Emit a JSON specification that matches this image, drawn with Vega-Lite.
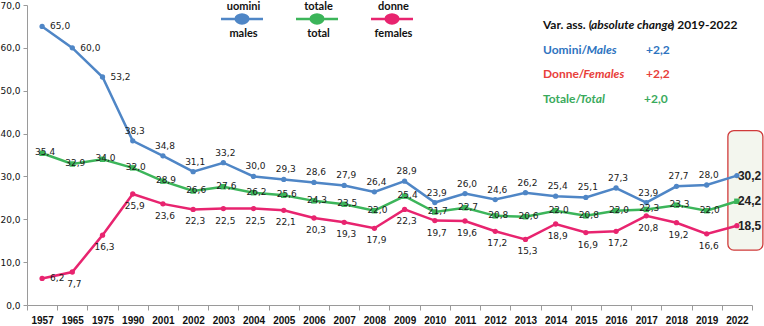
{
  "$schema": "https://vega.github.io/schema/vega-lite/v6.json",
  "width": 725,
  "height": 300,
  "autosize": {"type": "none"},
  "padding": {"left": 27, "top": 5, "right": 12, "bottom": 21},
  "background": "white",
  "config": {
    "locale": {"number": {"decimal": ",", "thousands": ".", "grouping": [3], "currency": ["", " €"]}},
    "view": {"stroke": null},
    "style": {"guide-label": {"lineHeight": 27}},
    "axis": {"grid": false, "domainColor": "#9a9a9a", "tickColor": "#9a9a9a", "labelColor": "#111111", "labelFont": "DejaVu Sans", "labelFontSize": 9}
  },
  "datasets": {
    "tassi": [
      {"anno": "1957", "serie": "uomini", "valore": 65.0}, {"anno": "1965", "serie": "uomini", "valore": 60.0}, {"anno": "1975", "serie": "uomini", "valore": 53.2}, {"anno": "1990", "serie": "uomini", "valore": 38.3},
      {"anno": "2001", "serie": "uomini", "valore": 34.8}, {"anno": "2002", "serie": "uomini", "valore": 31.1}, {"anno": "2003", "serie": "uomini", "valore": 33.2}, {"anno": "2004", "serie": "uomini", "valore": 30.0},
      {"anno": "2005", "serie": "uomini", "valore": 29.3}, {"anno": "2006", "serie": "uomini", "valore": 28.6}, {"anno": "2007", "serie": "uomini", "valore": 27.9}, {"anno": "2008", "serie": "uomini", "valore": 26.4},
      {"anno": "2009", "serie": "uomini", "valore": 28.9}, {"anno": "2010", "serie": "uomini", "valore": 23.9}, {"anno": "2011", "serie": "uomini", "valore": 26.0}, {"anno": "2012", "serie": "uomini", "valore": 24.6},
      {"anno": "2013", "serie": "uomini", "valore": 26.2}, {"anno": "2014", "serie": "uomini", "valore": 25.4}, {"anno": "2015", "serie": "uomini", "valore": 25.1}, {"anno": "2016", "serie": "uomini", "valore": 27.3},
      {"anno": "2017", "serie": "uomini", "valore": 23.9}, {"anno": "2018", "serie": "uomini", "valore": 27.7}, {"anno": "2019", "serie": "uomini", "valore": 28.0}, {"anno": "2022", "serie": "uomini", "valore": 30.2},
      {"anno": "1957", "serie": "totale", "valore": 35.4}, {"anno": "1965", "serie": "totale", "valore": 32.9}, {"anno": "1975", "serie": "totale", "valore": 34.0}, {"anno": "1990", "serie": "totale", "valore": 32.0},
      {"anno": "2001", "serie": "totale", "valore": 28.9}, {"anno": "2002", "serie": "totale", "valore": 26.6}, {"anno": "2003", "serie": "totale", "valore": 27.6}, {"anno": "2004", "serie": "totale", "valore": 26.2},
      {"anno": "2005", "serie": "totale", "valore": 25.6}, {"anno": "2006", "serie": "totale", "valore": 24.3}, {"anno": "2007", "serie": "totale", "valore": 23.5}, {"anno": "2008", "serie": "totale", "valore": 22.0},
      {"anno": "2009", "serie": "totale", "valore": 25.4}, {"anno": "2010", "serie": "totale", "valore": 21.7}, {"anno": "2011", "serie": "totale", "valore": 22.7}, {"anno": "2012", "serie": "totale", "valore": 20.8},
      {"anno": "2013", "serie": "totale", "valore": 20.6}, {"anno": "2014", "serie": "totale", "valore": 22.0}, {"anno": "2015", "serie": "totale", "valore": 20.8}, {"anno": "2016", "serie": "totale", "valore": 22.0},
      {"anno": "2017", "serie": "totale", "valore": 22.3}, {"anno": "2018", "serie": "totale", "valore": 23.3}, {"anno": "2019", "serie": "totale", "valore": 22.0}, {"anno": "2022", "serie": "totale", "valore": 24.2},
      {"anno": "1957", "serie": "donne", "valore": 6.2}, {"anno": "1965", "serie": "donne", "valore": 7.7}, {"anno": "1975", "serie": "donne", "valore": 16.3}, {"anno": "1990", "serie": "donne", "valore": 25.9},
      {"anno": "2001", "serie": "donne", "valore": 23.6}, {"anno": "2002", "serie": "donne", "valore": 22.3}, {"anno": "2003", "serie": "donne", "valore": 22.5}, {"anno": "2004", "serie": "donne", "valore": 22.5},
      {"anno": "2005", "serie": "donne", "valore": 22.1}, {"anno": "2006", "serie": "donne", "valore": 20.3}, {"anno": "2007", "serie": "donne", "valore": 19.3}, {"anno": "2008", "serie": "donne", "valore": 17.9},
      {"anno": "2009", "serie": "donne", "valore": 22.3}, {"anno": "2010", "serie": "donne", "valore": 19.7}, {"anno": "2011", "serie": "donne", "valore": 19.6}, {"anno": "2012", "serie": "donne", "valore": 17.2},
      {"anno": "2013", "serie": "donne", "valore": 15.3}, {"anno": "2014", "serie": "donne", "valore": 18.9}, {"anno": "2015", "serie": "donne", "valore": 16.9}, {"anno": "2016", "serie": "donne", "valore": 17.2},
      {"anno": "2017", "serie": "donne", "valore": 20.8}, {"anno": "2018", "serie": "donne", "valore": 19.2}, {"anno": "2019", "serie": "donne", "valore": 16.6}, {"anno": "2022", "serie": "donne", "valore": 18.5}
    ],
    "note": [
      {"k": "t1", "testo": "Var. ass. ("}, {"k": "t2", "testo": "absolute change"}, {"k": "t3", "testo": ") 2019-2022"},
      {"k": "u1", "testo": "Uomini/"}, {"k": "u2", "testo": "Males"}, {"k": "u3", "testo": "+2,2"},
      {"k": "d1", "testo": "Donne/"}, {"k": "d2", "testo": "Females"}, {"k": "d3", "testo": "+2,2"},
      {"k": "s1", "testo": "Totale/"}, {"k": "s2", "testo": "Total"}, {"k": "s3", "testo": "+2,0"}
    ],
    "riquadro": [{"anno": "2022"}]
  },
  "layer": [
    {
      "data": {"name": "riquadro"},
      "mark": {"type": "rect", "fill": "#f3f6ee", "stroke": "#d03a3a", "strokeWidth": 1.3, "cornerRadius": 6, "xOffset": -9, "x2Offset": 26},
      "encoding": {
        "x": {
          "field": "anno", "type": "ordinal", "title": null,
          "scale": {"type": "band", "paddingInner": 0, "paddingOuter": 0,
            "domain": ["1957","1965","1975","1990","2001","2002","2003","2004","2005","2006","2007","2008","2009","2010","2011","2012","2013","2014","2015","2016","2017","2018","2019","2022"]},
          "axis": {"labelAngle": 0, "labelFont": "Liberation Sans", "labelFontWeight": "bold", "labelFontSize": 10, "tickBand": "extent", "tickSize": 5, "labelPadding": 5, "title": null}
        },
        "x2": {"field": "anno"},
        "y": {
          "datum": 40.7, "type": "quantitative", "title": null,
          "scale": {"domain": [0, 70], "nice": false},
          "axis": {"values": [0, 10, 20, 30, 40, 50, 60, 70], "format": ".1f", "tickSize": 4, "labelPadding": 3, "title": null}
        },
        "y2": {"datum": 12.8}
      }
    },
    {
      "data": {"name": "tassi"},
      "encoding": {
        "x": {
          "field": "anno", "type": "ordinal", "title": null,
          "scale": {"type": "band", "paddingInner": 0, "paddingOuter": 0,
            "domain": ["1957","1965","1975","1990","2001","2002","2003","2004","2005","2006","2007","2008","2009","2010","2011","2012","2013","2014","2015","2016","2017","2018","2019","2022"]},
          "axis": {"labelAngle": 0, "labelFont": "Liberation Sans", "labelFontWeight": "bold", "labelFontSize": 10, "tickBand": "extent", "tickSize": 5, "labelPadding": 5, "title": null}
        },
        "y": {
          "field": "valore", "type": "quantitative", "title": null,
          "scale": {"domain": [0, 70], "nice": false},
          "axis": {"values": [0, 10, 20, 30, 40, 50, 60, 70], "format": ".1f", "tickSize": 4, "labelPadding": 3, "title": null}
        }
      },
      "layer": [
        {
          "mark": {"type": "line", "strokeWidth": 2.5},
          "encoding": {
            "stroke": {
              "field": "serie", "type": "nominal",
              "scale": {"domain": ["uomini", "totale", "donne"], "range": ["#4f86c6", "#3cb55a", "#e8246f"]},
              "legend": {
                "orient": "none", "legendX": 203, "legendY": -10, "direction": "horizontal", "title": null,
                "symbolType": "M-2,1.14L2,1.14M-0.6,1.14A0.6,0.42,0,1,0,0.6,1.14A0.6,0.42,0,1,0,-0.6,1.14Z",
                "symbolSize": 441, "symbolStrokeWidth": 2.5,
                "labelAlign": "center", "labelBaseline": "middle", "labelOffset": -10.5,
                "labelFont": "Lato", "labelFontSize": 11, "labelFontWeight": "bold", "labelColor": "#111111", "labelLimit": 0,
                "columnPadding": 23,
                "labelExpr": "datum.label == 'uomini' ? ['uomini', 'males'] : datum.label == 'totale' ? ['totale', 'total'] : ['donne', 'females']"
              }
            }
          }
        },
        {
          "transform": [{"filter": "datum.serie != 'totale'"}],
          "mark": {"type": "point", "filled": true, "size": 28, "opacity": 1, "shape": "circle"},
          "encoding": {
            "fill": {
              "field": "serie", "type": "nominal",
              "scale": {"domain": ["uomini", "totale", "donne"], "range": ["#4f86c6", "#3cb55a", "#e8246f"]},
              "legend": {
                "orient": "none", "legendX": 203, "legendY": -10, "direction": "horizontal", "title": null,
                "symbolType": "M-2,1.14L2,1.14M-0.6,1.14A0.6,0.42,0,1,0,0.6,1.14A0.6,0.42,0,1,0,-0.6,1.14Z",
                "symbolSize": 441, "symbolStrokeWidth": 2.5,
                "labelAlign": "center", "labelBaseline": "middle", "labelOffset": -10.5,
                "labelFont": "Lato", "labelFontSize": 11, "labelFontWeight": "bold", "labelColor": "#111111", "labelLimit": 0,
                "columnPadding": 23,
                "labelExpr": "datum.label == 'uomini' ? ['uomini', 'males'] : datum.label == 'totale' ? ['totale', 'total'] : ['donne', 'females']"
              }
            }
          }
        },
        {
          "transform": [{"filter": "datum.serie == 'totale'"}],
          "mark": {"type": "point", "filled": true, "size": 30, "opacity": 1, "shape": "square"},
          "encoding": {"fill": {"field": "serie", "type": "nominal"}}
        },
        {
          "transform": [{"filter": "datum.serie == 'uomini' && datum.anno != '2022' && indexof(['1957', '1965', '1975'], datum.anno) < 0"}],
          "mark": {"type": "text", "font": "DejaVu Sans", "fontSize": 9, "color": "#1a1a1a", "dy": -10, "dx": 2},
          "encoding": {"text": {"field": "valore", "type": "quantitative", "format": ".1f"}}
        },
        {
          "transform": [{"filter": "(datum.serie == 'uomini' && indexof(['1957', '1965', '1975'], datum.anno) >= 0) || (datum.serie == 'donne' && datum.anno == '1957')"}],
          "mark": {"type": "text", "font": "DejaVu Sans", "fontSize": 9, "color": "#1a1a1a", "align": "left", "dx": 8, "dy": 0},
          "encoding": {"text": {"field": "valore", "type": "quantitative", "format": ".1f"}}
        },
        {
          "transform": [{"filter": "datum.serie == 'totale' && datum.anno != '2022'"}],
          "mark": {"type": "text", "font": "DejaVu Sans", "fontSize": 9, "color": "#1a1a1a", "dy": -1, "dx": 3},
          "encoding": {"text": {"field": "valore", "type": "quantitative", "format": ".1f"}}
        },
        {
          "transform": [{"filter": "datum.serie == 'donne' && datum.anno != '2022' && datum.anno != '1957'"}],
          "mark": {"type": "text", "font": "DejaVu Sans", "fontSize": 9, "color": "#1a1a1a", "dy": 12, "dx": 2},
          "encoding": {"text": {"field": "valore", "type": "quantitative", "format": ".1f"}}
        },
        {
          "transform": [{"filter": "datum.anno == '2022'"}],
          "mark": {"type": "text", "font": "Liberation Sans", "fontSize": 12, "fontWeight": "bold", "color": "#222222", "align": "left", "dx": 1},
          "encoding": {"text": {"field": "valore", "type": "quantitative", "format": ".1f"}}
        }
      ]
    },
    {
      "data": {"name": "note"},
      "layer": [
        {
          "transform": [{"filter": "datum.k == 't1'"}],
          "mark": {"type": "text", "font": "Lato", "fontSize": 12, "fontWeight": "bold", "color": "#111111", "align": "left", "dx": -12.7},
          "encoding": {"x": {"datum": "2014", "type": "ordinal"}, "y": {"datum": 65.3, "type": "quantitative"}, "text": {"field": "testo", "type": "nominal"}}
        },
        {
          "transform": [{"filter": "datum.k == 't2'"}],
          "mark": {"type": "text", "font": "Lato", "fontSize": 12, "fontWeight": "bold", "fontStyle": "italic", "color": "#111111", "align": "left", "dx": 5.1},
          "encoding": {"x": {"datum": "2015", "type": "ordinal"}, "y": {"datum": 65.3, "type": "quantitative"}, "text": {"field": "testo", "type": "nominal"}}
        },
        {
          "transform": [{"filter": "datum.k == 't3'"}],
          "mark": {"type": "text", "font": "Lato", "fontSize": 12, "fontWeight": "bold", "color": "#111111", "align": "left", "dx": -5.5},
          "encoding": {"x": {"datum": "2018", "type": "ordinal"}, "y": {"datum": 65.3, "type": "quantitative"}, "text": {"field": "testo", "type": "nominal"}}
        },
        {
          "transform": [{"filter": "datum.k == 'u1'"}],
          "mark": {"type": "text", "font": "Lato", "fontSize": 12, "fontWeight": "bold", "color": "#2e74c0", "align": "left", "dx": -12.7},
          "encoding": {"x": {"datum": "2014", "type": "ordinal"}, "y": {"datum": 59.5, "type": "quantitative"}, "text": {"field": "testo", "type": "nominal"}}
        },
        {
          "transform": [{"filter": "datum.k == 'u2'"}],
          "mark": {"type": "text", "font": "Lato", "fontSize": 12, "fontWeight": "bold", "fontStyle": "italic", "color": "#2e74c0", "align": "left", "dx": 0.6},
          "encoding": {"x": {"datum": "2015", "type": "ordinal"}, "y": {"datum": 59.5, "type": "quantitative"}, "text": {"field": "testo", "type": "nominal"}}
        },
        {
          "transform": [{"filter": "datum.k == 'u3'"}],
          "mark": {"type": "text", "font": "Lato", "fontSize": 12, "fontWeight": "bold", "color": "#2e74c0", "align": "left", "dx": -0.3},
          "encoding": {"x": {"datum": "2017", "type": "ordinal"}, "y": {"datum": 59.5, "type": "quantitative"}, "text": {"field": "testo", "type": "nominal"}}
        },
        {
          "transform": [{"filter": "datum.k == 'd1'"}],
          "mark": {"type": "text", "font": "Lato", "fontSize": 12, "fontWeight": "bold", "color": "#e8403a", "align": "left", "dx": -12.7},
          "encoding": {"x": {"datum": "2014", "type": "ordinal"}, "y": {"datum": 54.0, "type": "quantitative"}, "text": {"field": "testo", "type": "nominal"}}
        },
        {
          "transform": [{"filter": "datum.k == 'd2'"}],
          "mark": {"type": "text", "font": "Lato", "fontSize": 12, "fontWeight": "bold", "fontStyle": "italic", "color": "#e8403a", "align": "left", "dx": -2.6},
          "encoding": {"x": {"datum": "2015", "type": "ordinal"}, "y": {"datum": 54.0, "type": "quantitative"}, "text": {"field": "testo", "type": "nominal"}}
        },
        {
          "transform": [{"filter": "datum.k == 'd3'"}],
          "mark": {"type": "text", "font": "Lato", "fontSize": 12, "fontWeight": "bold", "color": "#e8403a", "align": "left", "dx": -0.3},
          "encoding": {"x": {"datum": "2017", "type": "ordinal"}, "y": {"datum": 54.0, "type": "quantitative"}, "text": {"field": "testo", "type": "nominal"}}
        },
        {
          "transform": [{"filter": "datum.k == 's1'"}],
          "mark": {"type": "text", "font": "Lato", "fontSize": 12, "fontWeight": "bold", "color": "#3aaa5c", "align": "left", "dx": -12.7},
          "encoding": {"x": {"datum": "2014", "type": "ordinal"}, "y": {"datum": 48.1, "type": "quantitative"}, "text": {"field": "testo", "type": "nominal"}}
        },
        {
          "transform": [{"filter": "datum.k == 's2'"}],
          "mark": {"type": "text", "font": "Lato", "fontSize": 12, "fontWeight": "bold", "fontStyle": "italic", "color": "#3aaa5c", "align": "left", "dx": -6},
          "encoding": {"x": {"datum": "2015", "type": "ordinal"}, "y": {"datum": 48.1, "type": "quantitative"}, "text": {"field": "testo", "type": "nominal"}}
        },
        {
          "transform": [{"filter": "datum.k == 's3'"}],
          "mark": {"type": "text", "font": "Lato", "fontSize": 12, "fontWeight": "bold", "color": "#3aaa5c", "align": "left", "dx": -2.3},
          "encoding": {"x": {"datum": "2017", "type": "ordinal"}, "y": {"datum": 48.1, "type": "quantitative"}, "text": {"field": "testo", "type": "nominal"}}
        }
      ]
    }
  ]
}
